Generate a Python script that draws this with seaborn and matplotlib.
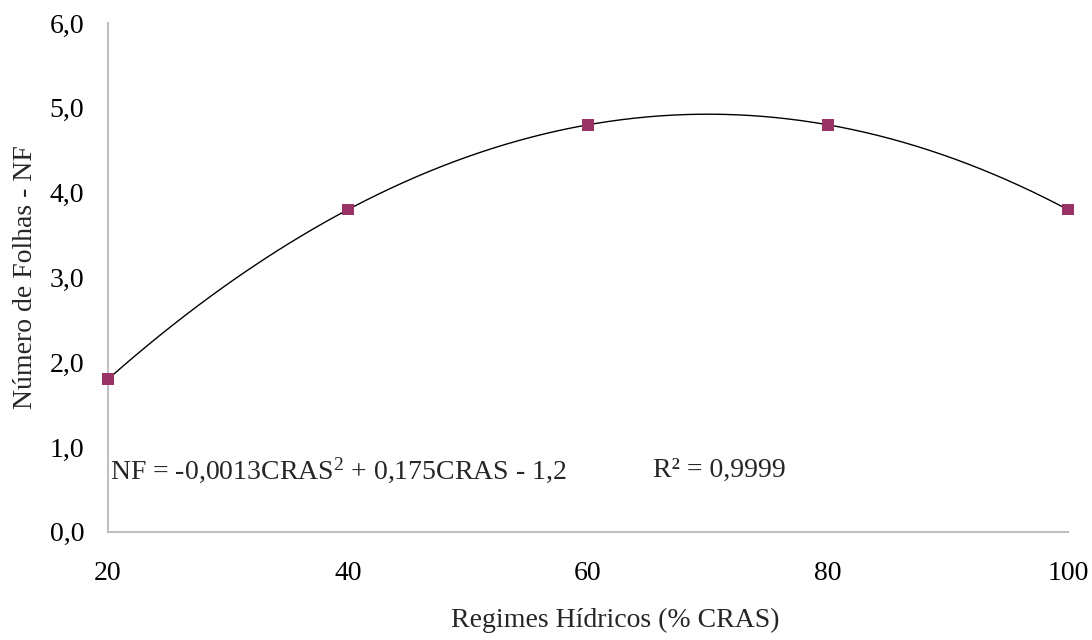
import numpy as np
import pandas as pd
import matplotlib
matplotlib.use("Agg")
import matplotlib.pyplot as plt
import seaborn as sns

# Data
regimes = [20, 40, 60, 80, 100]
folhas = [1.8, 3.8, 4.8, 4.8, 3.8]
x_ticks = [20, 40, 60, 80, 100]
y_ticks = [0, 1, 2, 3, 4, 5, 6]
equation = "NF = -0,0013CRAS$^{2}$ + 0,175CRAS - 1,2"
r2_text = "R² = 0,9999"

sns.set_style("white")
plt.rcParams['font.family'] = ['Liberation Serif', 'DejaVu Serif']
plt.rcParams['mathtext.fontset'] = 'custom'
plt.rcParams['mathtext.rm'] = 'Liberation Serif'
plt.rcParams['mathtext.it'] = 'Liberation Serif'

fig = plt.figure(figsize=(10.92, 6.4), dpi=100)
ax = fig.add_axes([0.0989, 0.169, 0.879, 0.795])

df = pd.DataFrame({"x": regimes, "y": folhas})
coef = np.polyfit(df["x"], df["y"], 2)
xs = np.linspace(min(regimes), max(regimes), 300)
curve = pd.DataFrame({"x": xs, "y": np.polyval(coef, xs)})

sns.lineplot(data=curve, x="x", y="y", ax=ax, color="black", linewidth=1.0)
sns.scatterplot(data=df, x="x", y="y", ax=ax, marker="s", s=70,
                color="#993366", edgecolor="none", zorder=5, clip_on=False)

ax.set_xlim(20, 100)
ax.set_ylim(0, 6)
ax.set_xticks(x_ticks)
ax.set_yticks(y_ticks)
ax.set_xticklabels([str(v) for v in x_ticks], fontsize=20)
ax.set_yticklabels([f"{v:.1f}".replace(".", ",") for v in y_ticks], fontsize=20)
ax.set_xlabel("Regimes Hídricos (% CRAS)", fontsize=20)
ax.set_ylabel("Número de Folhas - NF", fontsize=20)
ax.xaxis.set_label_coords(0.528, -0.15)
ax.yaxis.set_label_coords(-0.073, 0.5)

for side in ["top", "right"]:
    ax.spines[side].set_visible(False)
for side in ["left", "bottom"]:
    ax.spines[side].set_color("#BFBFBF")
    ax.spines[side].set_linewidth(1.5)
ax.tick_params(axis="both", which="both", direction="out", length=6, width=1.2,
               color="#BFBFBF", labelcolor="black")
ax.tick_params(axis="x", pad=15)
ax.tick_params(axis="y", pad=11)

ax.text(20.17, 0.73, equation, fontsize=20, va="center", ha="left")
ax.text(65.4, 0.73, r2_text, fontsize=20, va="center", ha="left")

fig.savefig("out.png", dpi=100)
